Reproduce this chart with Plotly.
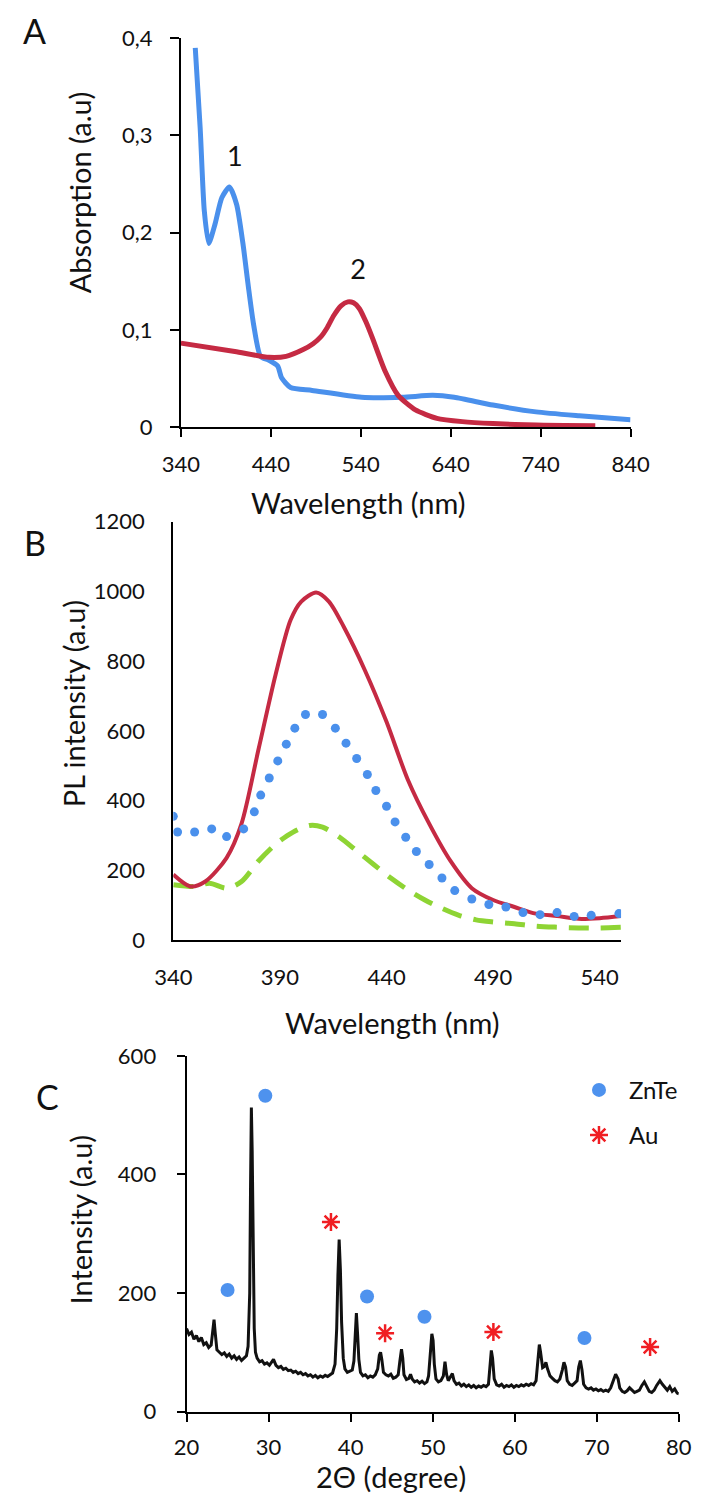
import plotly.graph_objects as go

# ---------------- Panel A: absorption ----------------
a_wl_1 = [356, 361.5, 366, 371, 378, 385.5, 394, 402, 409, 415, 421, 428.5, 438, 447.7, 452, 462,
          486, 541, 586, 620, 644, 687, 735, 783, 840]
a_abs_1 = [0.39, 0.307, 0.223, 0.189, 0.209, 0.236, 0.247, 0.229, 0.189, 0.145, 0.105, 0.073, 0.069,
           0.063, 0.051, 0.041, 0.038, 0.031, 0.031, 0.033, 0.031, 0.023, 0.016, 0.012, 0.008]
a_wl_2 = [340, 400, 438, 457, 476, 487, 495.5, 503, 510, 518, 525.6, 532, 538.6, 546, 553, 567, 581.6,
          600.8, 624.7, 653, 687, 735, 800.8]
a_abs_2 = [0.0866, 0.078, 0.072, 0.073, 0.080, 0.086, 0.093, 0.103, 0.115, 0.125, 0.129, 0.128, 0.122,
           0.108, 0.092, 0.058, 0.033, 0.018, 0.0094, 0.006, 0.004, 0.0024, 0.0017]
a_xticks = [340, 440, 540, 640, 740, 840]
a_yticks = [0, 0.1, 0.2, 0.3, 0.4]
a_yticktext = ["0", "0,1", "0,2", "0,3", "0,4"]
a_peak_labels = ["1", "2"]
a_peak_x = [400, 537]
a_peak_y = [0.276, 0.159]

# ---------------- Panel B: PL ----------------
b_wl_red = [340, 348, 355, 365, 372, 380, 388, 395, 400, 407, 413, 420, 430, 440, 450, 460, 470, 480,
            490, 500, 510, 520, 530, 540, 550]
b_pl_red = [188, 154, 168, 236, 334, 548, 762, 918, 971, 997, 971, 898, 772, 626, 460, 334, 227, 149,
            115, 95, 76, 69, 61, 63, 69]
b_wl_blue = [340, 342, 350, 358, 365, 373, 378, 381, 385, 389, 393, 397, 402, 410, 416, 421, 426, 431,
             435, 440, 444, 449, 454, 460, 466, 472, 480, 488, 496, 504, 512, 520, 528, 536, 549]
b_pl_blue = [355, 310, 310, 319, 297, 319, 368, 416, 465, 514, 562, 608, 647, 647, 608, 565, 521, 475,
             429, 384, 339, 295, 254, 217, 178, 142, 118, 102, 95, 79, 73, 79, 68, 71, 76]
b_wl_green = [340, 350, 357, 365, 372, 380, 388, 396, 404, 410, 418, 426, 434, 442, 450, 458, 466, 474,
              482, 490, 500, 510, 520, 530, 540, 550]
b_pl_green = [159, 154, 163, 149, 168, 227, 275, 309, 329, 324, 295, 256, 217, 178, 144, 115, 91, 71,
              58, 52, 47, 40, 37, 35, 35, 37]
b_xticks = [340, 390, 440, 490, 540]
b_yticks = [0, 200, 400, 600, 800, 1000, 1200]

# ---------------- Panel C: XRD ----------------
c_2theta = [20.0, 20.3, 20.6, 20.9, 21.2, 21.5, 21.8, 22.1, 22.4, 22.7, 23.0, 23.2, 23.35, 23.5, 23.7,
            24.0, 24.3, 24.6, 24.9, 25.2, 25.5, 25.8, 26.1, 26.4, 26.7, 27.0, 27.3, 27.5, 27.7, 27.8,
            27.9, 28.0, 28.1, 28.25, 28.4, 28.6, 28.9, 29.2, 29.5, 29.8, 30.1, 30.4, 30.6, 30.9, 31.2,
            31.5, 31.8, 32.1, 32.4, 32.7, 33.0, 33.3, 33.6, 33.9, 34.2, 34.5, 34.8, 35.1, 35.4, 35.7,
            36.0, 36.3, 36.6, 36.9, 37.2, 37.5, 37.8, 38.1, 38.3, 38.45, 38.6, 38.75, 38.9, 39.1, 39.3,
            39.6, 39.9, 40.2, 40.4, 40.55, 40.7, 40.85, 41.0, 41.2, 41.5, 41.8, 42.1, 42.4, 42.7, 43.0,
            43.3, 43.5, 43.65, 43.8, 44.0, 44.3, 44.6, 44.9, 45.2, 45.5, 45.8, 46.0, 46.2, 46.35, 46.5,
            46.8, 47.1, 47.3, 47.5, 47.8, 48.1, 48.4, 48.7, 49.0, 49.3, 49.5, 49.7, 49.9, 50.05, 50.2,
            50.4, 50.7, 51.0, 51.3, 51.5, 51.7, 51.9, 52.2, 52.4, 52.6, 52.9, 53.2, 53.5, 53.8, 54.1,
            54.4, 54.7, 55.0, 55.3, 55.6, 55.9, 56.2, 56.5, 56.8, 57.0, 57.15, 57.3, 57.5, 57.8, 58.1,
            58.4, 58.7, 59.0, 59.3, 59.6, 59.9, 60.2, 60.5, 60.8, 61.1, 61.4, 61.7, 62.0, 62.3, 62.6,
            62.85, 63.0, 63.15, 63.4, 63.6, 63.8, 64.0, 64.3, 64.6, 64.9, 65.2, 65.5, 65.8, 66.0, 66.2,
            66.4, 66.7, 67.0, 67.3, 67.6, 67.8, 68.0, 68.2, 68.4, 68.7, 69.0, 69.3, 69.6, 69.9, 70.2,
            70.5, 70.8, 71.1, 71.4, 71.7, 72.0, 72.3, 72.6, 72.8, 73.1, 73.4, 73.7, 74.0, 74.3, 74.6,
            74.9, 75.2, 75.5, 75.8, 76.1, 76.4, 76.7, 77.0, 77.3, 77.7, 78.0, 78.3, 78.6, 78.9, 79.2,
            79.5, 79.8, 80.0]
c_intensity = [140, 130, 134, 122, 128, 118, 125, 113, 116, 108, 112, 135, 155, 132, 104,
               100, 96, 99, 93, 97, 90, 94, 88, 92, 86, 90, 94, 110, 200, 380,
               513, 440, 260, 140, 100, 90, 84, 86, 80, 82, 78, 84, 88, 78, 74,
               76, 71, 73, 69, 70, 66, 68, 64, 66, 62, 64, 60, 62, 58, 61,
               57, 60, 58, 61, 59, 62, 65, 80, 140, 230, 290, 240, 150, 90, 72,
               66, 68, 70, 85, 130, 166, 130, 88, 66, 60, 62, 57, 60, 58, 62,
               72, 95, 100, 88, 66, 62, 60, 63, 56, 58, 62, 85, 105, 90, 62,
               54, 56, 63, 55, 50, 52, 48, 51, 47, 50, 60, 100, 131, 120, 80,
               55, 50, 52, 60, 84, 62, 52, 58, 64, 52, 46, 48, 43, 46, 42,
               45, 41, 44, 40, 43, 41, 44, 42, 46, 75, 103, 90, 55, 45, 43,
               46, 41, 44, 42, 45, 41, 44, 42, 45, 43, 46, 44, 47, 45, 52,
               95, 113, 100, 74, 76, 83, 72, 60, 56, 52, 50, 55, 70, 83, 75,
               52, 46, 44, 48, 52, 75, 86, 70, 46, 40, 38, 40, 36, 38, 35,
               37, 34, 36, 34, 40, 52, 63, 55, 40, 34, 32, 35, 40, 36, 32,
               34, 36, 44, 50, 42, 34, 32, 36, 44, 52, 46, 40, 36, 42, 34,
               38, 31, 30]
c_znte_x = [25.0, 29.6, 42.0, 49.0, 68.5]
c_znte_y = [205, 533, 194, 160, 124]
c_au_x = [37.6, 44.2, 57.4, 76.5]
c_au_y = [320, 132, 134, 109]
c_xticks = [20, 30, 40, 50, 60, 70, 80]
c_yticks = [0, 200, 400, 600]

BLUE = "#4A90EC"
RED = "#C52A43"
GREEN = "#8ED434"
FONT = "Lato"
INK = "#111111"
TICKF = dict(family=FONT, size=22, color=INK)

fig = go.Figure()

# Panel A
fig.add_trace(go.Scatter(x=a_wl_1, y=a_abs_1, mode="lines",
                         line=dict(color=BLUE, width=5, shape="spline", smoothing=0.6),
                         xaxis="x", yaxis="y", showlegend=False))
fig.add_trace(go.Scatter(x=a_wl_2, y=a_abs_2, mode="lines",
                         line=dict(color=RED, width=5, shape="spline", smoothing=0.6),
                         xaxis="x", yaxis="y", showlegend=False))
fig.add_trace(go.Scatter(x=a_peak_x, y=a_peak_y, mode="text", text=a_peak_labels,
                         textfont=dict(family=FONT, size=27, color=INK),
                         xaxis="x", yaxis="y", showlegend=False))

# Panel B
fig.add_trace(go.Scatter(x=b_wl_green, y=b_pl_green, mode="lines",
                         line=dict(color=GREEN, width=5, dash="20px,12px", shape="spline", smoothing=0.8),
                         xaxis="x2", yaxis="y2", showlegend=False))
fig.add_trace(go.Scatter(x=b_wl_red, y=b_pl_red, mode="lines",
                         line=dict(color=RED, width=4, shape="spline", smoothing=0.8),
                         xaxis="x2", yaxis="y2", showlegend=False))
fig.add_trace(go.Scatter(x=b_wl_blue, y=b_pl_blue, mode="markers",
                         marker=dict(color=BLUE, size=9),
                         xaxis="x2", yaxis="y2", showlegend=False))

# Panel C
fig.add_trace(go.Scatter(x=c_2theta, y=c_intensity, mode="lines", line=dict(color=INK, width=3),
                         xaxis="x3", yaxis="y3", showlegend=False))
fig.add_trace(go.Scatter(x=c_znte_x, y=c_znte_y, mode="markers", name="ZnTe", legendgroup="g1",
                         marker=dict(color="#4E92EE", size=14, symbol="circle"),
                         xaxis="x3", yaxis="y3"))
fig.add_trace(go.Scatter(x=c_au_x, y=c_au_y, mode="markers", name="Au", legendgroup="g2",
                         marker=dict(color="#F01E23", size=15, symbol="asterisk-open",
                                     line=dict(color="#F01E23", width=2.5)),
                         xaxis="x3", yaxis="y3"))

W, H = 712, 1507


def px_x(p):
    return p / W


def px_y(p):
    return 1 - p / H


axis_common = dict(showline=True, linecolor="black", linewidth=2, showgrid=False, zeroline=False,
                   tickfont=TICKF, tickcolor="black", tickwidth=2)

fig.update_layout(
    width=W, height=H, autosize=False,
    margin=dict(l=0, r=0, t=0, b=0),
    paper_bgcolor="white", plot_bgcolor="white",
    font=dict(family=FONT, color=INK),
    xaxis=dict(domain=[px_x(171), px_x(646)], range=[340, 840], anchor="y",
               tickvals=a_xticks, ticks="outside", ticklen=8, ticklabelstandoff=8, **axis_common),
    yaxis=dict(domain=[px_y(421), px_y(24.5)], range=[0, 0.4], anchor="x",
               tickvals=a_yticks, ticktext=a_yticktext, ticks="outside", ticklen=9,
               ticklabelstandoff=13, **axis_common),
    xaxis2=dict(domain=[px_x(163), px_x(636)], range=[340, 550], anchor="y2",
                tickvals=b_xticks, ticks="", ticklabelstandoff=16, **axis_common),
    yaxis2=dict(domain=[px_y(943), px_y(517)], range=[0, 1200], anchor="x2",
                tickvals=b_yticks, ticks="", ticklabelstandoff=22, **axis_common),
    xaxis3=dict(domain=[px_x(177), px_x(697)], range=[20, 80], anchor="y3",
                tickvals=c_xticks, ticks="outside", ticklen=8, ticklabelstandoff=7, **axis_common),
    yaxis3=dict(domain=[px_y(1423), px_y(1061)], range=[0, 600], anchor="x3",
                tickvals=c_yticks, ticks="outside", ticklen=8, ticklabelstandoff=16, **axis_common),
    legend=dict(x=px_x(581), y=px_y(1073), xanchor="left", yanchor="top",
                font=dict(family=FONT, size=24, color=INK), bgcolor="rgba(0,0,0,0)",
                itemwidth=50, tracegroupgap=11, traceorder="grouped"),
)

TITLEF = dict(family=FONT, size=29, color=INK)
LETF = dict(family=FONT, size=34, color=INK)
ann = [
    dict(text="A", x=px_x(2), y=px_y(17), xanchor="left", yanchor="middle", font=LETF),
    dict(text="B", x=px_x(3), y=px_y(538), xanchor="left", yanchor="middle", font=LETF),
    dict(text="C", x=px_x(16), y=px_y(1102), xanchor="left", yanchor="middle", font=LETF),
    dict(text="Wavelength (nm)", x=px_x(359), y=px_y(497), xanchor="center", yanchor="middle", font=TITLEF),
    dict(text="Absorption (a.u)", x=px_x(64), y=px_y(182), xanchor="center", yanchor="middle",
         textangle=-90, font=TITLEF),
    dict(text="Wavelength (nm)", x=px_x(395), y=px_y(1027), xanchor="center", yanchor="middle", font=TITLEF),
    dict(text="PL intensity (a.u)", x=px_x(58), y=px_y(702), xanchor="center", yanchor="middle",
         textangle=-90, font=TITLEF),
    dict(text="Intensity (a.u)", x=px_x(66), y=px_y(1228), xanchor="center", yanchor="middle",
         textangle=-90, font=TITLEF),
    dict(text="2Θ (degree)", x=px_x(393), y=px_y(1489), xanchor="center", yanchor="middle", font=TITLEF),
]
for a in ann:
    a.update(xref="paper", yref="paper", showarrow=False)
fig.update_layout(annotations=ann)

fig.write_html("out.html", config={"displayModeBar": False},
               post_script="document.body.style.margin='0';document.body.style.overflow='hidden';")
